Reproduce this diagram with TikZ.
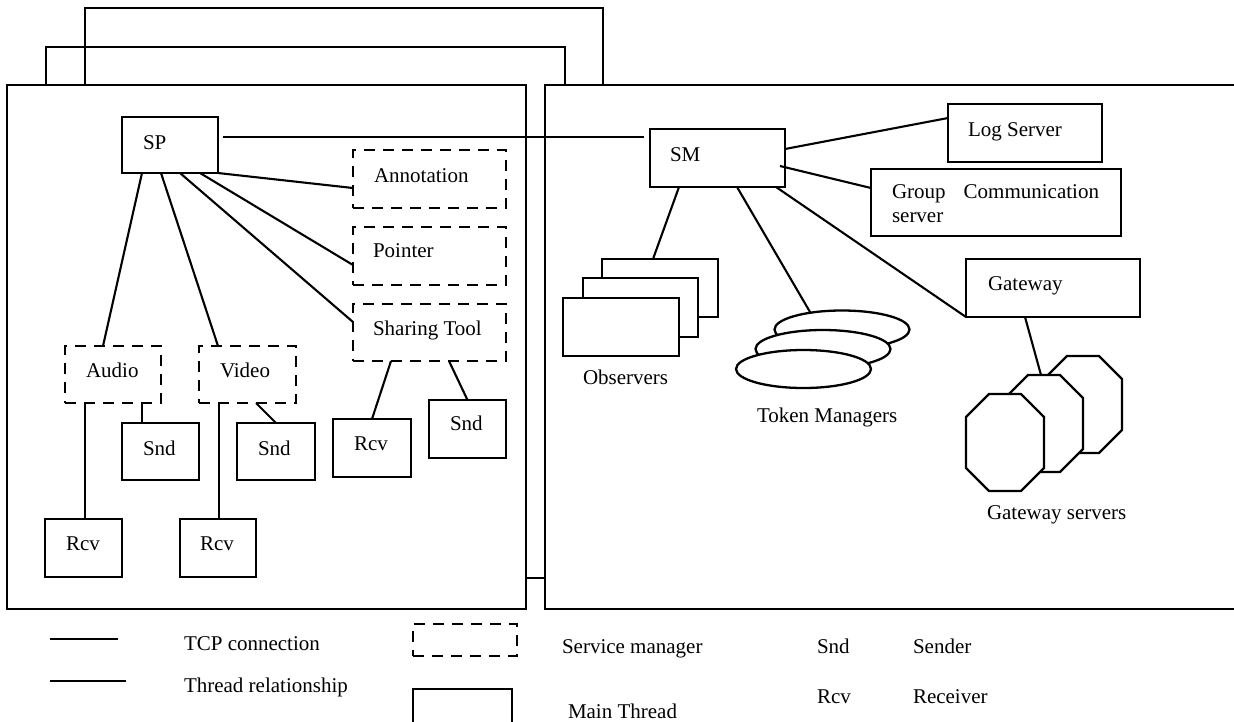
\documentclass[tikz,border=0pt]{standalone}
\usepackage{fontspec}
\setmainfont{Liberation Serif}
\usetikzlibrary{calc,shapes.geometric}
\begin{document}
\begin{tikzpicture}[x=1pt,y=-1pt,
  boxline/.style={line width=2.3pt},
  mainbox/.style={boxline,draw,fill=white,rectangle,inner sep=0pt,outer sep=0pt},
  svcbox/.style={mainbox,dash pattern=on 11pt off 8pt},
  framebox/.style={draw,line width=2.7pt,rectangle,inner sep=0pt,outer sep=0pt},
  backframe/.style={line width=2pt},
  conn/.style={line width=2.1pt},
  txt/.style={inner sep=0pt,outer sep=0pt,anchor=base west,font=\fontsize{21pt}{24pt}\selectfont},
  tok/.style={boxline,draw,fill=white,ellipse,inner sep=0pt,outer sep=0pt,minimum width=135pt,minimum height=38pt},
  octa/.pic={\draw[boxline,fill=white] (23,0) -- (55,0) -- (78,23) -- (78,74) -- (55,97) -- (23,97) -- (0,74) -- (0,23) -- cycle;}
]
\useasboundingbox (0,0) rectangle (1234,721);
\clip (0,0) rectangle (1234,721);

% stacked back frames
\draw[backframe] (85,84) |- (603,8) -- (603,84);
\draw[backframe] (46,84) |- (565,47) -- (565,84);
% front frames
\node[framebox,minimum width=519pt,minimum height=524pt] (leftframe) at (266.5,347) {};
\node[framebox,minimum width=715pt,minimum height=524pt] (rightframe) at (902.5,347) {};
\draw[conn] (leftframe.east |- 0,578) -- (rightframe.west |- 0,578);

% ---- left panel boxes
\node[mainbox,minimum width=96pt,minimum height=56pt] (sp) at (170,145) {};
\node[svcbox,minimum width=153pt,minimum height=58pt] (ann) at (429.5,179) {};
\node[svcbox,minimum width=153pt,minimum height=58pt] (ptr) at (429.5,256) {};
\node[svcbox,minimum width=153pt,minimum height=57pt] (shr) at (429.5,332.5) {};
\node[svcbox,minimum width=96pt,minimum height=57pt] (aud) at (113,374.5) {};
\node[svcbox,minimum width=97pt,minimum height=57pt] (vid) at (247.5,374.5) {};
\node[mainbox,minimum width=77pt,minimum height=57pt] (snda) at (160.5,451.5) {};
\node[mainbox,minimum width=78pt,minimum height=57pt] (sndv) at (276,451.5) {};
\node[mainbox,minimum width=78pt,minimum height=58pt] (rcvs) at (372,448) {};
\node[mainbox,minimum width=77pt,minimum height=58pt] (snds) at (467.5,429) {};
\node[mainbox,minimum width=77pt,minimum height=58pt] (rcva) at (83.5,548) {};
\node[mainbox,minimum width=76pt,minimum height=58pt] (rcvv) at (218,548) {};

\node[txt] (sptxt) at (143,149) {SP};
\node[txt] (anntxt) at (374,182) {Annotation};
\node[txt] (ptrtxt) at (373,257) {Pointer};
\node[txt] (shrtxt) at (373,335) {Sharing Tool};
\node[txt] (audtxt) at (86,377) {Audio};
\node[txt] (vidtxt) at (220,377) {Video};
\node[txt] (sndatxt) at (143,455) {Snd};
\node[txt] (sndvtxt) at (258,455) {Snd};
\node[txt] (rcvstxt) at (354,450) {Rcv};
\node[txt] (sndstxt) at (450,430) {Snd};
\node[txt] (rcvatxt) at (66,550) {Rcv};
\node[txt] (rcvvtxt) at (200,550) {Rcv};

% ---- right panel
\node[mainbox,minimum width=135pt,minimum height=58pt] (sm) at (717.5,158) {};
\node[mainbox,minimum width=154pt,minimum height=58pt] (log) at (1025,133) {};
\node[mainbox,minimum width=250pt,minimum height=67pt] (grp) at (996,202.5) {};
\node[mainbox,minimum width=174pt,minimum height=58pt] (gw) at (1053,288) {};
\node[mainbox,minimum width=116pt,minimum height=58pt] (obs3) at (660,288) {};
\node[mainbox,minimum width=115pt,minimum height=59pt] (obs2) at (640.5,307.5) {};
\node[mainbox,minimum width=116pt,minimum height=58pt] (obs1) at (621,327) {};
\node[tok] (tok3) at (842,329.5) {};
\node[tok] (tok2) at (823,349) {};
\node[tok] (tok1) at (803.5,369) {};
\pic at (1044,356) {octa};
\pic at (1005,375) {octa};
\pic at (966,394) {octa};
\coordinate (gwsrv) at (1041,375);

\node[txt] (smtxt) at (670,161) {SM};
\node[txt] (logtxt) at (968,136) {Log Server};
\node[txt,anchor=north west,align=left] (grptxt) at (892,185) {Group\hspace{18pt}Communication\\server};
\node[txt] (gwtxt) at (988,290) {Gateway};
\node[txt] (obstxt) at (583,384) {Observers};
\node[txt] (toktxt) at (757,422) {Token Managers};
\node[txt] (gwstxt) at (987,519) {Gateway servers};

% ---- connectors
\draw[conn,shorten <=5pt,shorten >=6pt] ([yshift=8pt]sp.east) -- ([yshift=21pt]sm.west);
\draw[conn] (sp.south east) -- ([yshift=-9pt]ann.west);
\draw[conn] ([xshift=30pt]sp.south) -- ([yshift=-9pt]ptr.west);
\draw[conn] ([xshift=10pt]sp.south) -- ([yshift=10.5pt]shr.west);
\draw[conn] ([xshift=-28pt]sp.south) -- ([xshift=-10pt]aud.north);
\draw[conn] ([xshift=-9pt]sp.south) -- ([xshift=-29.5pt]vid.north);
\draw[conn] ([xshift=29pt]aud.south) -- ([xshift=-18.5pt]snda.north);
\draw[conn] ([xshift=-28pt]aud.south) -- ([xshift=1.5pt]rcva.north);
\draw[conn] ([xshift=8.5pt]vid.south) -- (sndv.north);
\draw[conn] ([xshift=-28.5pt]vid.south) -- ([xshift=1pt]rcvv.north);
\draw[conn] ([xshift=-38.5pt]shr.south) -- (rcvs.north);
\draw[conn] ([xshift=19.5pt]shr.south) -- (snds.north);

\draw[conn] ([yshift=9pt]sm.east) -- ([yshift=15pt]log.west);
\draw[conn] ([yshift=-8pt,xshift=-5pt]sm.east) -- ([yshift=14.5pt]grp.west);
\draw[conn] ([xshift=-38.5pt]sm.south) -- ([xshift=-7pt]obs3.north);
\draw[conn] ([xshift=19.5pt]sm.south) -- (tok3.152);
\draw[conn] ([xshift=58.5pt]sm.south) -- (gw.south west);
\draw[conn] ([xshift=-28pt]gw.south) -- (gwsrv);

% ---- legend
\coordinate (tcpa) at (50,639);
\coordinate (tcpb) at (118,639);
\coordinate (thra) at (50,681);
\coordinate (thrb) at (126,681);
\draw[conn] (tcpa) -- (tcpb);
\draw[conn] (thra) -- (thrb);
\node[svcbox,minimum width=104pt,minimum height=32pt] (legsvc) at (465,640) {};
\node[mainbox,minimum width=99pt,minimum height=52pt] (legmain) at (462.5,715) {};
\node[txt] (legtcp) at (184,650) {TCP connection};
\node[txt] (legthr) at (184,692) {Thread relationship};
\node[txt] (legsvctxt) at (562,653) {Service manager};
\node[txt] (legmaintxt) at (568,718) {Main Thread};
\node[txt] (legsnd) at (817,653) {Snd};
\node[txt] (legsender) at (913,653) {Sender};
\node[txt] (legrcv) at (817,703) {Rcv};
\node[txt] (legreceiver) at (913,703) {Receiver};
\end{tikzpicture}
\end{document}
